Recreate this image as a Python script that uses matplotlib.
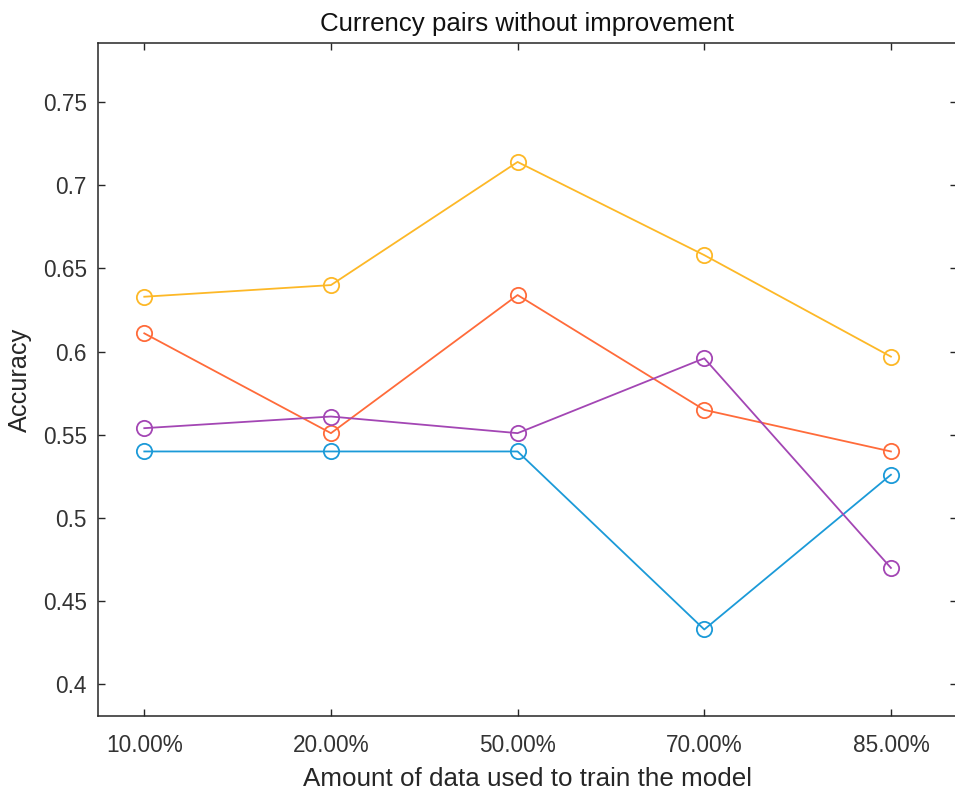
import matplotlib
matplotlib.use("Agg")
import matplotlib.pyplot as plt

plt.rcParams['font.family'] = ['Liberation Sans', 'DejaVu Sans']

# Training-set fractions (categorical x axis)
train_fractions = ["10.00%", "20.00%", "50.00%", "70.00%", "85.00%"]

# Accuracy per currency pair
pair_blue = [0.540, 0.540, 0.540, 0.433, 0.526]
pair_orange = [0.611, 0.551, 0.634, 0.565, 0.540]
pair_yellow = [0.633, 0.640, 0.714, 0.658, 0.597]
pair_purple = [0.554, 0.561, 0.551, 0.596, 0.470]

y_ticks = [0.4, 0.45, 0.5, 0.55, 0.6, 0.65, 0.7, 0.75]
y_tick_labels = ["0.4", "0.45", "0.5", "0.55", "0.6", "0.65", "0.7", "0.75"]

series = [
    (pair_blue, "#1b9ad8"),
    (pair_orange, "#ff6b3a"),
    (pair_yellow, "#fdb827"),
    (pair_purple, "#a346b4"),
]

W, H = 955, 790
fig = plt.figure(figsize=(W / 100, H / 100), dpi=100)
left, right, top, bottom = 98, 957, 43, 716
ax = fig.add_axes([left / W, 1 - bottom / H, (right - left) / W, (bottom - top) / H])

x = list(range(1, len(train_fractions) + 1))
for vals, col in series:
    ax.plot(x, vals, color=col, linewidth=1.3, marker='o', markersize=11,
            markerfacecolor='none', markeredgecolor=col, markeredgewidth=1.3)

ax.set_xlim(0.752, 5.354)
ax.set_ylim(0.381, 0.7855)
ax.set_xticks(x)
ax.set_xticklabels(train_fractions)
ax.set_yticks(y_ticks)
ax.set_yticklabels(y_tick_labels)

txt = "#262626"
for s in ax.spines.values():
    s.set_color(txt)
    s.set_linewidth(1.1)
ax.tick_params(direction='in', length=5, width=1.0, color=txt, labelcolor="#333333",
               labelsize=16.3, top=True, right=True)
ax.tick_params(axis='x', pad=13)
ax.tick_params(axis='y', pad=8)

ax.set_title("Currency pairs without improvement", fontsize=18.6, color="#111111", pad=9)
ax.set_xlabel("Amount of data used to train the model", fontsize=18.7, color="#262626", labelpad=7)
ax.set_ylabel("Accuracy", fontsize=18.2, color="#262626", labelpad=8)

fig.savefig("out.png", dpi=100, facecolor="white")
